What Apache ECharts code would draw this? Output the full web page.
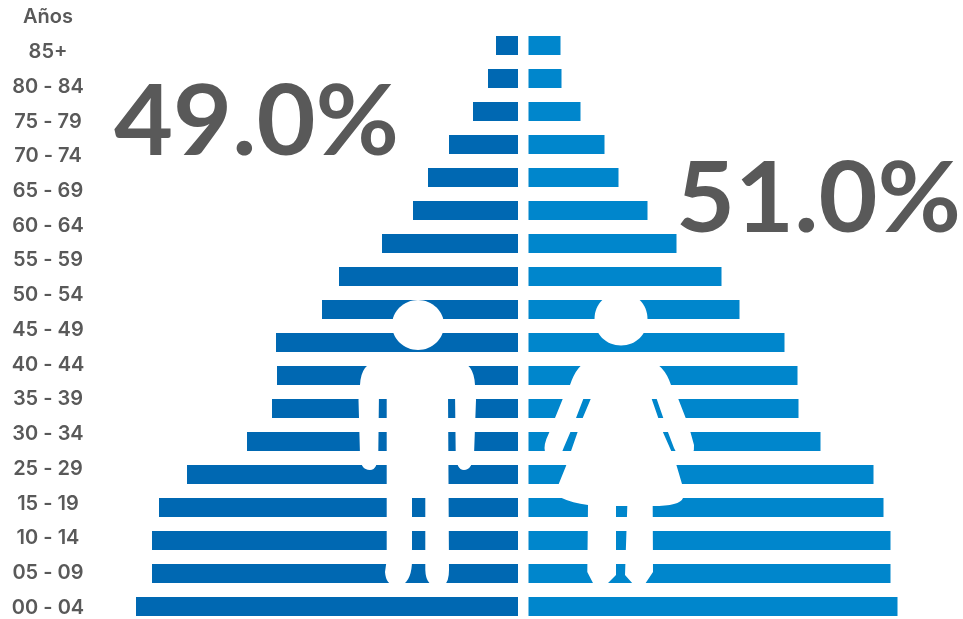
<!DOCTYPE html>
<html><head><meta charset="utf-8">
<style>html,body{margin:0;padding:0;background:#fff;width:963px;height:619px;overflow:hidden}#c{width:963px;height:660px}</style>
<script src="https://cdn.jsdelivr.net/npm/echarts@6/dist/echarts.min.js"></script>
</head><body><div id="c"></div>
<script>
const ageLabels = ['Años','85+','80 - 84','75 - 79','70 - 74','65 - 69','60 - 64','55 - 59','50 - 54','45 - 49','40 - 44','35 - 39','30 - 34','25 - 29','15 - 19','10 - 14','05 - 09','00 - 04'];
const menValues = [22,30,45,69,90,105,136,179,196,242,241,246,271,331,359,366,366,382];
const womenValues = [32,33,52,76,90,119,148,193,211,256,269,270,292,345,355,362,362,369];
const menShare = '49.0%';
const womenShare = '51.0%';
const MAX = 400;
const GREY = '#595959';

const manHead = 'M392,325 C392,311 404,300 418,300 C432,300 444,311 444,325 C444,339 432,350 418,350 C404,350 392,339 392,325 Z';
const womanHead = 'M594.5,319 C594.5,304 606,292.5 621,292.5 C636,292.5 647.5,304 647.5,319 C647.5,334 636,345.5 621,345.5 C606,345.5 594.5,334 594.5,319 Z';
const manPath = 'M378,361 Q361,363 360,385 L358.5,400 L360,455 Q360,470 370,470 Q378,470 378.3,452 L379,392 L386.7,392 L386.7,560 L385,572 Q386,585 395,585 L402,585 Q412,580 412,560 L412,497 L425.3,497 L425.3,570 Q426,585 435,585 L444,585 Q449,582 449,570 L448,392 L455,392 L455.7,452 Q456,470 464,470 Q472,470 474,455 L476,400 L475,385 Q474,363 458,361 Z';
const womanPath = 'M590,360 Q577,364 570,385 L562.7,399 L555,418 L549,433 Q543,445 545,452 Q548,459 556,458 Q561,456 564,447 L570,433 L576,418 L583.3,399 L586,392 L593,392 L590.7,399 L582.7,418 L577.3,433 L570.7,452 L566,466 L558.3,485 Q554,495 561.7,498 Q572,503 588,505 L587.3,572 L594,585 Q600,588 607,584 L616,575 L616,506 L627.3,506 L625,575 L633,584 Q639,588 645,584 L653,572 L652.7,506 Q680,506 683,498 Q685,492 682.3,485 L676.7,466 L671.7,452 L663.3,433 L658.3,418 L651.7,399 L649,392 L654,392 L656.7,399 L663.3,418 L668.3,433 L674,448 Q678,458 686,458 Q695,456 694,445 L690.7,433 L685.7,418 L678.3,399 L671,385 Q664,364 648,360 Z';

echarts.graphic.registerShape('manHead', echarts.graphic.extendPath(manHead, {}));
echarts.graphic.registerShape('manBody', echarts.graphic.extendPath(manPath, {}));
echarts.graphic.registerShape('womanHead', echarts.graphic.extendPath(womanHead, {}));
echarts.graphic.registerShape('womanBody', echarts.graphic.extendPath(womanPath, {}));

const hiddenX = (gridIndex, inverse) => ({type:'value', gridIndex, min:0, max:MAX, inverse, show:false});
const hiddenY = (gridIndex) => ({type:'category', gridIndex, data:ageLabels, inverse:true, show:false});
const silhouette = (type) => ({type, z:100, style:{fill:'#fff'}});
const bigText = (text, x, y) => ({type:'text', z:101, x, y, scaleX:1.04, style:{text, fill:GREY, font:'700 98px Lato', textAlign:'left', textVerticalAlign:'middle'}});

const chart = echarts.init(document.getElementById('c'), null, {renderer:'canvas'});
chart.setOption({
  animation:false,
  backgroundColor:'#fff',
  grid:[
    {left:118, top:29, width:400, height:594},
    {left:528.5, top:29, width:400, height:594},
    {left:85, top:-0.7, width:10, height:625.8}
  ],
  xAxis:[hiddenX(0,true), hiddenX(1,false), {type:'value', gridIndex:2, min:0, max:1, show:false}],
  yAxis:[hiddenY(0), hiddenY(1), {
    type:'category', gridIndex:2, data:ageLabels, inverse:true,
    axisLine:{show:false}, axisTick:{show:false},
    axisLabel:{interval:0, align:'center', margin:37, color:GREY, fontFamily:'Inter', fontWeight:600, fontSize:20}
  }],
  series:[
    {type:'bar', xAxisIndex:0, yAxisIndex:0, data:menValues, barWidth:19, itemStyle:{color:'#0068B2'}},
    {type:'bar', xAxisIndex:1, yAxisIndex:1, data:womenValues, barWidth:19, itemStyle:{color:'#0086CC'}},
    {type:'bar', xAxisIndex:2, yAxisIndex:2, data:[], silent:true}
  ],
  graphic:[
    silhouette('manHead'), silhouette('manBody'), silhouette('womanHead'), silhouette('womanBody'),
    bigText(menShare, 114, 123.5),
    bigText(womenShare, 676, 200)
  ]
});
</script></body></html>
